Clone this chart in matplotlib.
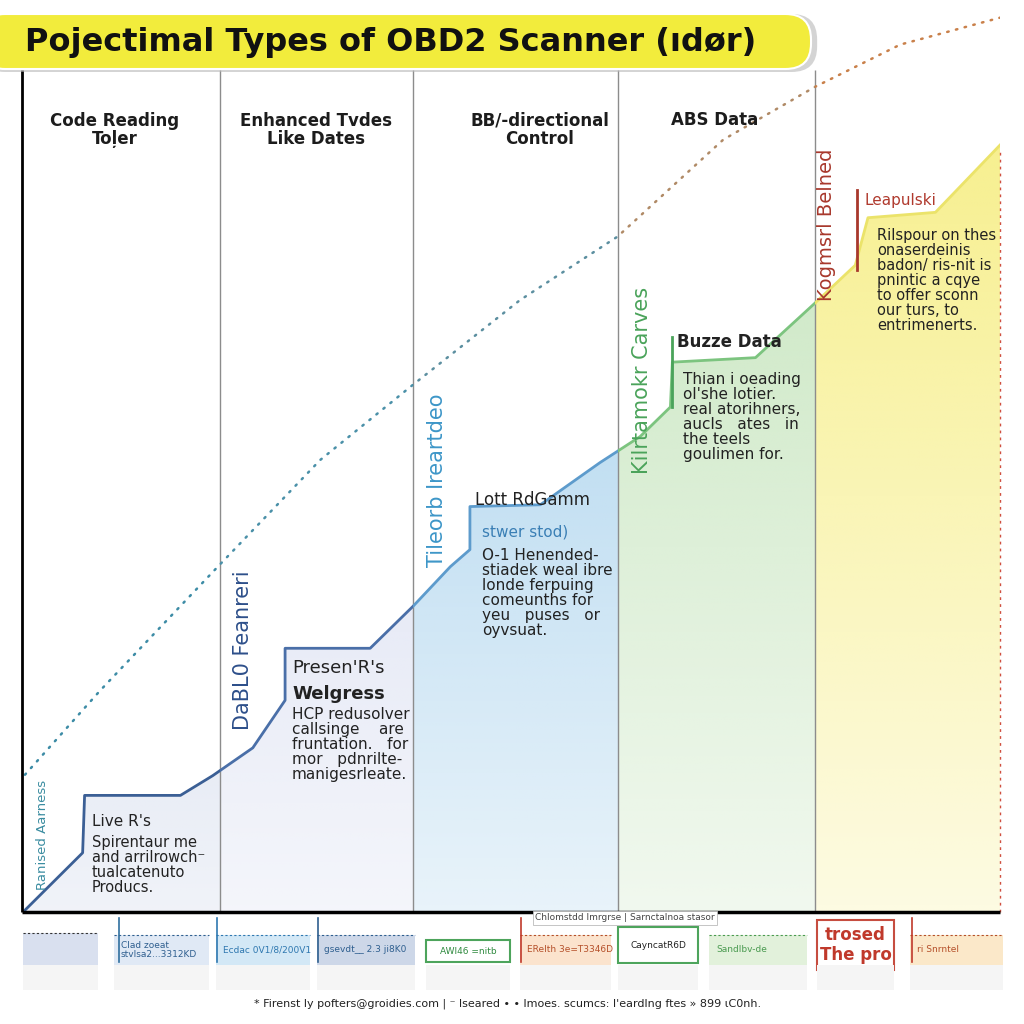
import numpy as np
import matplotlib
matplotlib.use("Agg")
import matplotlib.pyplot as plt
from matplotlib.patches import FancyBboxPatch, Rectangle, Polygon
from matplotlib.colors import to_rgb

# ---- data ----
col_edges = [0, 20.2, 40.0, 60.9, 81.1, 100]
col_headers = ["Code Reading\nToļer", "Enhanced Tvdes\nLike Dates", "BB/-directional\nControl", "ABS Data"]
col_fill = ["#c3cee6", "#d3d9ef", "#a3cfec", "#c6e5bd", "#f7ef8a"]
col_line = ["#3b5f95", "#4a6fa8", "#5d9bcc", "#7cc47f", "#ebe36a"]
dot_colors = ["#3d8ca6", "#4a90a8", "#5c8fa0", "#b08a66", "#c9804a"]

step_x = [0.3, 6.2, 6.4, 16.2, 19.5, 23.6, 26.9, 26.9, 35.6, 40.0, 43.8, 45.8, 45.8, 53.0,
          59.1, 63.2, 66.3, 66.5, 75.0, 81.1, 85.2, 86.5, 93.4, 100]
step_y = [0.2, 6.6, 13.0, 13.0, 15.2, 18.3, 23.6, 29.4, 29.4, 34.1, 38.5, 40.4, 45.2, 45.4,
          50.1, 53.0, 56.3, 61.3, 61.8, 67.9, 72.1, 77.4, 78.0, 85.5]

trend_x = [0.3, 8.0, 20.2, 30.5, 40.0, 50.9, 60.9, 71.7, 81.1, 89.8, 100]
trend_y = [15.3, 24.7, 38.7, 50.4, 58.8, 68.2, 75.3, 86.1, 92.0, 96.7, 99.7]

side_labels = ["Ranised Aarness", "DaBL0 Feanreri", "Tileorb Ireartdeo", "Kilrtamokr Carves", "Kogmsrl Belned"]
side_colors = ["#3a8ca0", "#2d4f8a", "#3d96c8", "#4aa35a", "#a8382c"]

legend_labels = ["", "Clad zoeat\nstvlsa2...3312KD", "Ecdac 0V1/8/200V1", "gsevdt__ 2.3 ji8K0",
                 "AWl46 =nitb", "ERelth 3e=T3346D", "CayncatR6D", "Sandlbv-de",
                 "trosed\nThe pro", "ri Snrntel"]

title = "Pojectimal Types of OBD2 Scanner (ıdør)"
footer = "* Firenst ly pofters@groidies.com | ⁻ lseared • • lmoes. scumcs: I'eardlng ftes » 899 ɩC0nh."

# ---- figure ----
fig = plt.figure(figsize=(10.24, 10.24), dpi=100)
fig.patch.set_facecolor("white")
ax = fig.add_axes([22 / 1024, 1 - 912 / 1024, 978 / 1024, 897 / 1024])
ax.set_xlim(0, 100)
ax.set_ylim(0, 100)
ax.axis("off")

def ft(px, py, s, **kw):
    fig.text(px / 1024, 1 - py / 1024, s, **kw)

# gradient fill under the step curve, one colour per column
clip = Polygon(np.column_stack([step_x + [100, 0], step_y + [0, 0]]), closed=True,
               transform=ax.transData)
for i in range(5):
    x0, x1 = col_edges[i], col_edges[i + 1]
    rgba = np.zeros((64, 1, 4))
    rgba[:, 0, :3] = to_rgb(col_fill[i])
    rgba[:, 0, 3] = np.linspace(0.25, 0.95, 64)
    im = ax.imshow(rgba, extent=(x0, x1, 0, 86), origin="lower", aspect="auto",
                   interpolation="bilinear", zorder=1)
    im.set_clip_path(clip)

# step line and dotted trend, coloured per column
for i in range(5):
    x0, x1 = col_edges[i], col_edges[i + 1]
    ln, = ax.plot(step_x, step_y, color=col_line[i], lw=2, zorder=3)
    ln.set_clip_path(Rectangle((x0, -5), x1 - x0, 110, transform=ax.transData))
    dl, = ax.plot(trend_x, trend_y, color=dot_colors[i], lw=1.8, ls=(0, (0.6, 3.0)),
                  dash_capstyle="round", zorder=3)
    dl.set_clip_path(Rectangle((x0, -5), x1 - x0, 110, transform=ax.transData))

# frame / dividers
ax.vlines(col_edges[1:5], 0, 93.9, color="#8c8c8c", lw=1, zorder=2)
ax.vlines(0, 0, 93.9, color="black", lw=2, zorder=4, clip_on=False)
ax.hlines(0, 0, 100, color="black", lw=2.5, zorder=4, clip_on=False)
ax.vlines(100, 0, 85, color="#d05040", lw=1, ls=(0, (2, 3)), zorder=2, clip_on=False)

# title banner
fig.patches.append(FancyBboxPatch((-0.02, 1 - 72 / 1024), 0.818, 58 / 1024,
                                  boxstyle="round,pad=0,rounding_size=0.025",
                                  transform=fig.transFigure, fc="#b8b8b8", ec="none",
                                  alpha=0.6, zorder=0))
fig.patches.append(FancyBboxPatch((-0.02, 1 - 69 / 1024), 0.812, 55 / 1024,
                                  boxstyle="round,pad=0,rounding_size=0.025",
                                  transform=fig.transFigure, fc="#f2ec3c", ec="white",
                                  lw=1.5, zorder=1))
ft(25, 42, title, fontsize=23, fontweight="bold", color="#111111", va="center", ha="left")

# column headers
header_x = [115, 316, 540, 715]
header_y = [130, 130, 130, 120]
for hx, hy, h in zip(header_x, header_y, col_headers):
    ft(hx, hy, h, fontsize=12, fontweight="bold", color="#1c1c1c", ha="center",
       va="center", linespacing=1.05)

# rotated side labels
side_pos = [(42, 835, 9.5), (243, 650, 15), (437, 480, 15), (642, 380, 15), (826, 225, 14)]
for (sx, sy, fs), s, c in zip(side_pos, side_labels, side_colors):
    ft(sx, sy, s, fontsize=fs, color=c, rotation=90, ha="center", va="center")

# panel texts
ft(92, 822, "Live R's", fontsize=11, color="#222222", va="center")
ft(92, 835, "Spirentaur me\nand arrilrowch⁻\ntualcatenuto\nProducs.", fontsize=10.5,
   color="#222222", va="top", linespacing=1.0)

ft(292, 668, "Presen'R's", fontsize=13, color="#222222", va="center")
ft(292, 694, "Welgress", fontsize=13, fontweight="bold", color="#222222", va="center")
ft(292, 707, "HCP redusolver\ncallsinge    are\nfruntation.   for\nmor   pdnrilte-\nmanigesrleate.",
   fontsize=11, color="#222222", va="top", linespacing=1.0)

ft(475, 500, "Lott RdGamm", fontsize=12, color="#222222", va="center")
ft(482, 532, "stwer stod)", fontsize=11, color="#3a7fb5", va="center")
ft(482, 548, "O-1 Henended-\nstiadek weal ibre\nlonde ferpuing\ncomeunths for\nyeu   puses   or\noyvsuat.",
   fontsize=11, color="#222222", va="top", linespacing=1.0)

ft(677, 342, "Buzze Data", fontsize=12, fontweight="bold", color="#222222", va="center")
ft(683, 372, "Thian i oeading\nol'she lotier.\nreal atorihners,\naucls   ates   in\nthe teels\ngoulimen for.",
   fontsize=11, color="#222222", va="top", linespacing=1.0)

ft(865, 200, "Leapulski", fontsize=11, color="#b03a2e", va="center")
ft(877, 228, "Rilspour on thes\nonaserdeinis\nbadon/ ris-nit is\npnintic a cqye\nto offer sconn\nour turs, to\nentrimenerts.",
   fontsize=10.5, color="#222222", va="top", linespacing=1.0)

# small accent bars beside headings
fig.lines.append(plt.Line2D([672 / 1024] * 2, [1 - 337 / 1024, 1 - 407 / 1024],
                            transform=fig.transFigure, color="#4aa35a", lw=2))
fig.lines.append(plt.Line2D([857 / 1024] * 2, [1 - 190 / 1024, 1 - 270 / 1024],
                            transform=fig.transFigure, color="#a8382c", lw=2))

# bottom strip of tags
tag_box = [(23, 98), (114, 209), (216, 310), (317, 415), (426, 510), (520, 611),
           (618, 698), (709, 807), (817, 894), (910, 1003)]
tag_fc = ["#d5ddee", "#dde7f4", "#cfe6f5", "#c8d3e6", "white", "#fbe0c8",
          "white", "#dff0d8", "white", "#fbe6c4"]
tag_ec = ["none", "none", "none", "none", "#3a9a4a", "none", "#3a9a4a", "none", "#c0392b", "none"]
tag_tc = ["#333", "#2f5f8f", "#2f78b0", "#2f5f8f", "#2f8a3f", "#b5502a", "#222", "#4a9a50",
          "#c0392b", "#b5502a"]
tag_top = [933, 935, 935, 935, 940, 935, 927, 935, 920, 935]
tag_bot = [965, 965, 965, 965, 962, 965, 963, 965, 970, 965]
for (x0, x1), fc, ec, tc, t0, t1, lab in zip(tag_box, tag_fc, tag_ec, tag_tc, tag_top, tag_bot,
                                           legend_labels):
    fig.patches.append(Rectangle((x0 / 1024, 1 - t1 / 1024), (x1 - x0) / 1024, (t1 - t0) / 1024,
                                 transform=fig.transFigure, fc=fc, ec=ec, lw=1.5, alpha=0.9))
    fig.patches.append(Rectangle((x0 / 1024, 1 - 990 / 1024), (x1 - x0) / 1024, 25 / 1024,
                                 transform=fig.transFigure, fc="#f5f5f5", ec="none"))
    if ec == "none":
        fig.lines.append(plt.Line2D([x0 / 1024, x1 / 1024], [1 - t0 / 1024] * 2,
                                    transform=fig.transFigure, color=tc, lw=0.8, ls=(0, (2, 2))))
    big = lab == "trosed\nThe pro"
    centred = big or ec != "none"
    ft((x0 + x1) / 2 if centred else x0 + 7, (t0 + t1) / 2, lab,
       fontsize=12 if big else 6.5, color=tc, fontweight="bold" if big else "normal",
       ha="center" if centred else "left", va="center", linespacing=1.1)

# arrow ticks
for ax_px, c in [(119, "#2f6f9f"), (217, "#2f78b0"), (318, "#2f5f8f"), (521, "#c0392b"), (912, "#c0392b")]:
    fig.lines.append(plt.Line2D([ax_px / 1024] * 2, [1 - 962 / 1024, 1 - 918 / 1024],
                                transform=fig.transFigure, color=c, lw=1.2))
ft(625, 918, "Chlomstdd lmrgrse | Sarnctalnoa stasor", fontsize=6.5, color="#444", ha="center",
   va="center", bbox=dict(fc="white", ec="#bbbbbb", lw=0.6, pad=1.5))

ft(508, 1004, footer, fontsize=8, color="#222222", ha="center", va="center")

fig.savefig("out.png", dpi=100)
